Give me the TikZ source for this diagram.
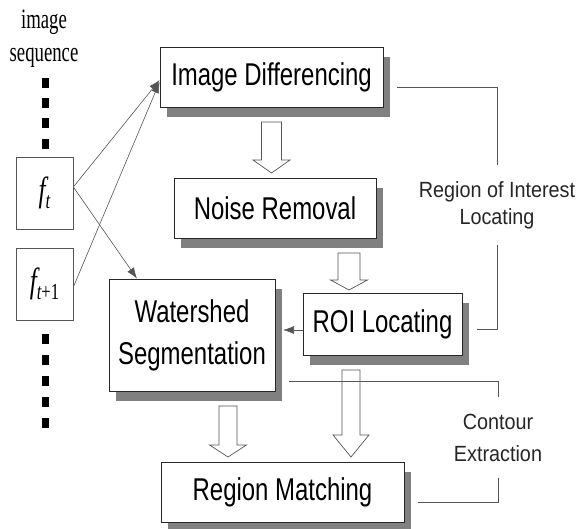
\documentclass[tikz,border=0pt]{standalone}
\usepackage{fontspec}
\newfontfamily\boxfont[FakeStretch=0.76]{Liberation Sans}
\newfontfamily\sidefont[FakeStretch=0.9]{Liberation Sans}
\newfontfamily\seqfont[FakeStretch=0.67]{Liberation Serif}
\newfontfamily\fvarfont[FakeStretch=0.72]{Liberation Serif}
\usetikzlibrary{shadows,arrows.meta}
\definecolor{shadowgray}{RGB}{128,128,128}
\definecolor{linegray}{RGB}{85,85,85}
\definecolor{bordergray}{RGB}{40,40,40}
\tikzset{
  procbox/.style={draw=bordergray, line width=0.8pt, fill=white, inner sep=0pt,
    align=center, font=\boxfont\fontsize{31.5}{42}\selectfont,
    drop shadow={shadow xshift=7pt, shadow yshift=-10pt, fill=shadowgray, opacity=1}},
  framebox/.style={draw=linegray, line width=0.7pt, fill=white, inner sep=0pt,
    minimum width=57pt, minimum height=72pt},
  thinarrow/.style={draw=linegray, line width=0.6pt, -{Latex[length=11pt,width=8pt]}},
  bracketline/.style={draw=linegray, line width=0.8pt},
  blockarrow/.style={draw=linegray, line width=0.7pt, fill=white, line join=miter},
  sidelabel/.style={inner sep=0pt, minimum height=80pt, align=center, text=black!85},
  seqdot/.style={fill=black}
}
\newcommand{\blockarr}[6]{%
  \path[blockarrow] ({#1-#5},#2) -- ({#1+#5},#2) -- ({#1+#5},#3) -- ({#1+#6},#3)
    -- (#1,#4) -- ({#1-#6},#3) -- ({#1-#5},#3) -- cycle;}
\begin{document}
\begin{tikzpicture}[x=1pt,y=-1pt]
\useasboundingbox (0,0) rectangle (582,529);

% image sequence label
\node[inner sep=0pt, align=center, font=\seqfont\fontsize{28}{33}\selectfont] (seq) at (44,39) {image\\sequence};

% dots
\foreach \yy in {78,98,118,139} { \fill[seqdot] (42,\yy) rectangle (49,{\yy+10}); }
\foreach \yy in {334,355,376,397,418} { \fill[seqdot] (42,\yy) rectangle (49,{\yy+10}); }

% frame boxes
\node[framebox] (ft) at (44.5,193) {\fvarfont\fontsize{35}{35}\selectfont\itshape f\raisebox{-7pt}{\fontsize{23}{23}\selectfont t}};
\node[framebox] (ft1) at (44.5,284) {\fvarfont\fontsize{35}{35}\selectfont{\itshape f}\raisebox{-7pt}{\fontsize{23}{23}\selectfont{\itshape t}+1}};

% process boxes
\node[procbox, minimum width=223pt, minimum height=60pt] (ID) at (271.5,77) {Image Differencing};
\node[procbox, minimum width=202pt, minimum height=60pt] (NR) at (275,208) {Noise Removal};
\node[procbox, minimum width=159pt, minimum height=62pt] (ROI) at (382.5,324) {ROI Locating};
\node[procbox, minimum width=166pt, minimum height=112pt] (WS) at (192,335) {Watershed\\Segmentation};
\node[procbox, minimum width=243pt, minimum height=60pt] (RM) at (282.5,492) {Region Matching};

% block arrows
\blockarr{271.5}{122}{160}{173}{10}{18.5}
\blockarr{349}{253}{280}{290}{11}{18.5}
\blockarr{228}{406}{445}{457}{9}{18.5}
\blockarr{351}{370}{435}{457}{9}{18}

% thin arrows
\draw[thinarrow] ([yshift=6pt]ft.east) -- ([yshift=-3pt]ID.west);
\draw[thinarrow] ([yshift=-3pt]ft1.east) -- ([yshift=-5pt]ID.west);
\draw[thinarrow] ([yshift=6pt]ft.east) -- ([xshift=-55pt]WS.north);
\coordinate (wsR) at (283,330);
\draw[thinarrow] ([yshift=-6pt]ROI.west) -- (wsR);

% side labels
\node[sidelabel, font=\sidefont\fontsize{22}{27}\selectfont] (roiLbl) at (497,205) {Region of Interest\\Locating};
\node[sidelabel, font=\sidefont\fontsize{22}{32}\selectfont] (ceLbl) at (498,437.5) {Contour\\Extraction};

\draw[bracketline] ([xshift=14pt,yshift=-10pt]ID.east) -| (roiLbl.north);
\draw[bracketline] (roiLbl.south) |- ([xshift=15pt,yshift=-5pt]ROI.east);
\draw[bracketline] ([xshift=14pt,yshift=10pt]WS.south east) -| (ceLbl.north);
\draw[bracketline] (ceLbl.south) |- ([xshift=14pt,yshift=-10pt]RM.east);
\end{tikzpicture}
\end{document}
